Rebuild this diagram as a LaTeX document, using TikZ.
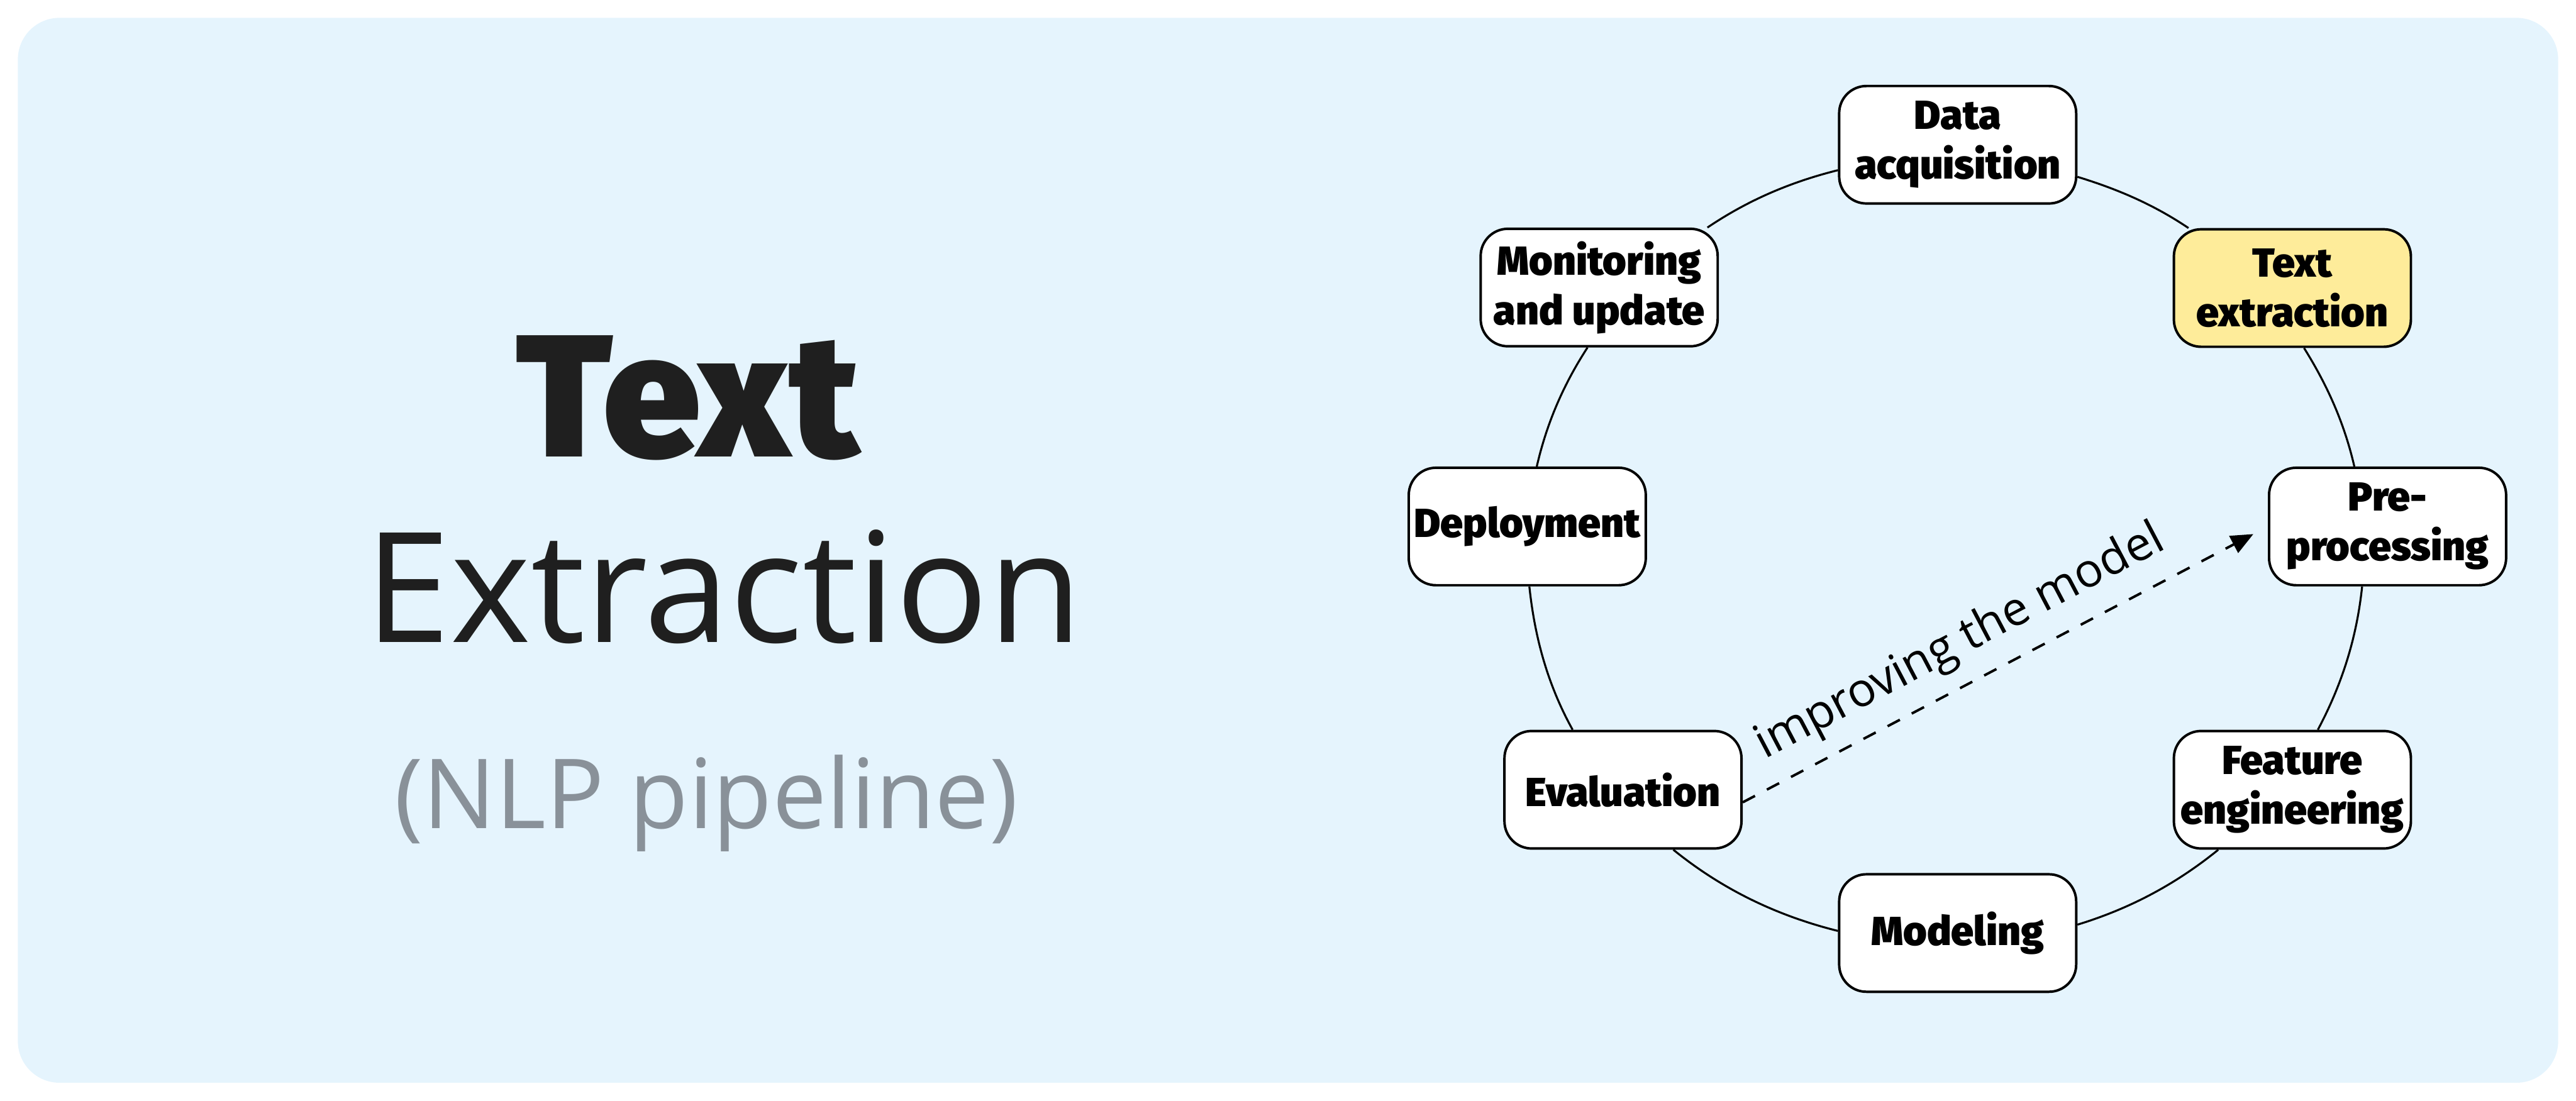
\documentclass[tikz,border=0pt]{standalone}
\usepackage{fontspec}
\setmainfont{Open Sans}
\IfFontExistsTF{Fira Sans Heavy}{\newfontfamily\heavyfont{Fira Sans Heavy}}{%
  \IfFontExistsTF{Fira Sans Black}{\newfontfamily\heavyfont{Fira Sans Black}}{%
    \newfontfamily\heavybase{Fira Sans}\newcommand\heavyfont{\heavybase\bfseries}}}
\usepackage{xcolor}
\usetikzlibrary{arrows.meta}
\definecolor{panel}{RGB}{229,244,253}
\definecolor{pipegray}{RGB}{137,145,153}
\definecolor{stageyellow}{RGB}{254,236,154}
\definecolor{darkink}{RGB}{31,31,31}
\tikzset{
	stage/.style={
		draw, line width=0.05cm, rounded corners=0.55cm, fill=white,
		minimum width=4.78cm, minimum height=2.37cm, inner sep=0pt, align=center,
		font=\heavyfont\fontsize{23.3}{28.5}\selectfont,
	},
	current/.style={stage, fill=stageyellow},
	ring/.style={line width=0.04cm, looseness=0.88},
	improve/.style={line width=0.05cm, dash pattern=on 0.28cm off 0.27cm,
		-{Triangle[length=0.45cm, width=0.38cm]}, shorten >=0.33cm},
}

\begin{document}
\begin{tikzpicture}
    \useasboundingbox (0,0) rectangle (51.95,22.20);
    \fill[panel, rounded corners=0.84cm] (0.36,0.36) rectangle (51.59,21.84);

    % title block
    \node[anchor=base, text=darkink, font=\heavyfont\fontsize{100}{120}\selectfont] (title) at (13.87,12.99) {Text};
    \node[anchor=base, text=darkink, font=\fontsize{88}{100}\selectfont] (subtitle) at (14.60,9.25) {Extraction};
    \node[anchor=base, text=pipegray, font=\fontsize{55.5}{64}\selectfont] (pipe) at (14.24,5.49) {(NLP pipeline)};

    % stages round the hub
    \coordinate (hub) at (39.24,11.10);
    \node[stage, xshift=0.24cm, yshift=8.18cm] (da) at (hub) {Data\\acquisition};
    \node[current, xshift=6.99cm, yshift=5.29cm] (te) at (hub) {Text\\extraction};
    \node[stage, xshift=8.91cm, yshift=0.48cm] (pp) at (hub) {Pre-\\processing};
    \node[stage, xshift=6.99cm, yshift=-4.83cm] (fe) at (hub) {Feature\\engineering};
    \node[stage, xshift=0.24cm, yshift=-7.72cm] (mo) at (hub) {Modeling};
    \node[stage, xshift=-6.51cm, yshift=-4.83cm] (ev) at (hub) {Evaluation};
    \node[stage, xshift=-8.44cm, yshift=0.48cm] (de) at (hub) {Deployment};
    \node[stage, xshift=-6.99cm, yshift=5.30cm] (mu) at (hub) {Monitoring\\and update};

    \draw[ring] (da.-15) to[out=-17, in=146] (te.150);
    \draw[ring] (te.-79) to[out=-58, in=103] (pp.119);
    \draw[ring] (pp.-113) to[out=-96, in=62] (fe.67);
    \draw[ring] (fe.-141) to[out=-141, in=17] (mo.4);
    \draw[ring] (mo.179) to[out=166, in=-39] (ev.-50);
    \draw[ring] (ev.130) to[out=119, in=-84] (de.-88);
    \draw[ring] (de.81) to[out=77, in=-123] (mu.-101);
    \draw[ring] (mu.29) to[out=34, in=-166] (da.-168);

    \draw[improve] (ev.-6) -- (pp.west)
        node[pos=0.45, sloped, above=0.31cm, inner sep=0pt, font=\fontsize{26.9}{32}\selectfont] (loop) {improving the model};
\end{tikzpicture}
\end{document}
